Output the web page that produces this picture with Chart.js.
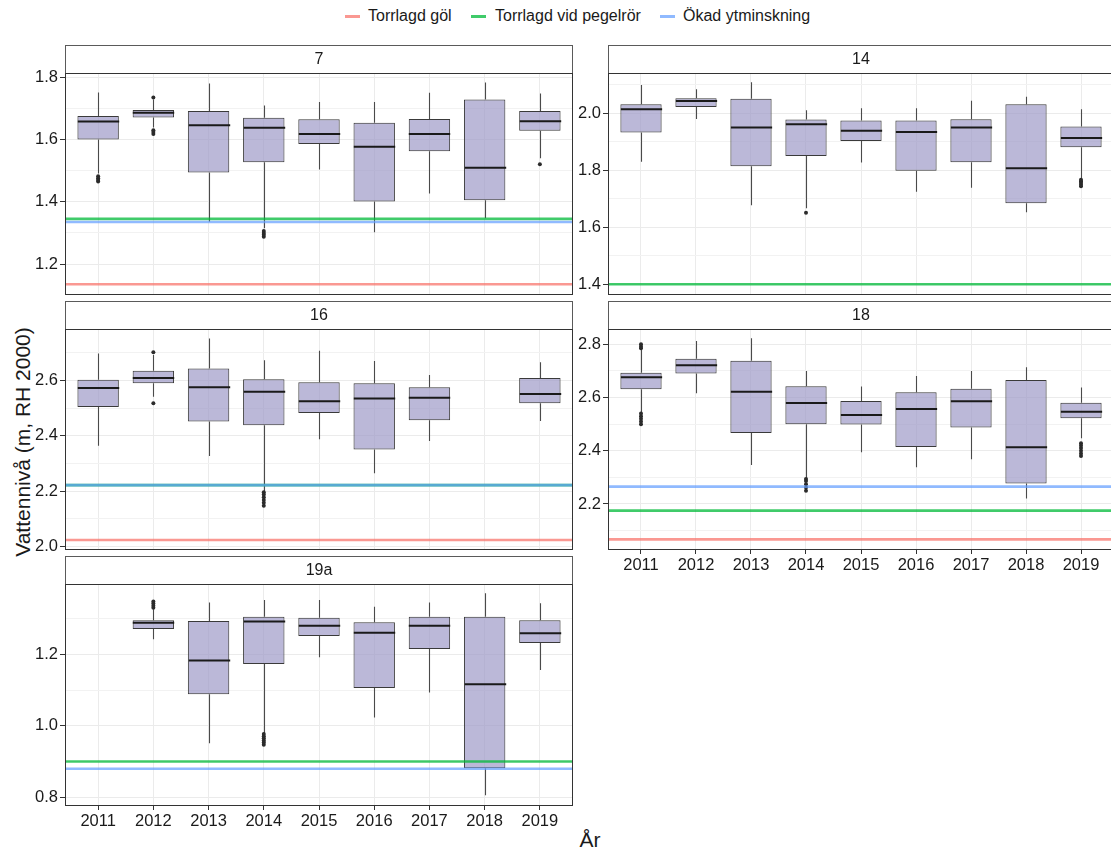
<!DOCTYPE html>
<html>
<head>
<meta charset="utf-8">
<script src="https://cdn.jsdelivr.net/npm/chart.js@4.4.1/dist/chart.umd.min.js"></script>
<style>
  html, body { margin: 0; padding: 0; background: #fff; overflow: hidden; width: 1111px; height: 850px; }
  body { position: relative; font-family: "Liberation Sans", Arial, sans-serif; color: #1a1a1a; }
  canvas { position: absolute; }
  .legend-key { position: absolute; height: 3px; width: 15px; }
  .legend-text { position: absolute; font-size: 16px; line-height: 16px; white-space: nowrap; }
  #ytitle { position: absolute; font-size: 21px; white-space: nowrap; transform: translate(-50%, -50%) rotate(-90deg); left: 23px; top: 442px; }
  #xtitle { position: absolute; font-size: 21px; white-space: nowrap; transform: translate(-50%, -50%); left: 590px; top: 840px; }
</style>
</head>
<body>
<div class="legend-key" style="left:345px;top:15px;background:rgba(248,118,109,0.75)"></div>
<div class="legend-text" style="left:368px;top:8px">Torrlagd göl</div>
<div class="legend-key" style="left:471px;top:15px;background:rgba(0,186,56,0.75)"></div>
<div class="legend-text" style="left:495px;top:8px">Torrlagd vid pegelrör</div>
<div class="legend-key" style="left:660px;top:15px;background:rgba(97,156,255,0.7)"></div>
<div class="legend-text" style="left:683px;top:8px">Ökad ytminskning</div>
<div id="ytitle">Vattennivå (m, RH 2000)</div>
<div id="xtitle">År</div>

<canvas id="c7"></canvas>
<canvas id="c14"></canvas>
<canvas id="c16"></canvas>
<canvas id="c18"></canvas>
<canvas id="c19a"></canvas>

<script>
// Years on the x axis
const years = [2011, 2012, 2013, 2014, 2015, 2016, 2017, 2018, 2019];

// Site 7: box statistics per year (m, RH 2000)
const s7Lower  = [1.491, 1.639, 1.336, 1.315, 1.504, 1.302, 1.427, 1.347, 1.540];
const s7Q1     = [1.600, 1.671, 1.494, 1.527, 1.586, 1.401, 1.562, 1.405, 1.628];
const s7Median = [1.658, 1.686, 1.646, 1.638, 1.618, 1.577, 1.618, 1.509, 1.659];
const s7Q3     = [1.676, 1.695, 1.692, 1.670, 1.665, 1.654, 1.666, 1.729, 1.692];
const s7Upper  = [1.751, 1.729, 1.780, 1.709, 1.721, 1.721, 1.750, 1.783, 1.748];
const s7OutYears  = [2011, 2011, 2011, 2011, 2012, 2012, 2012, 2012, 2014, 2014, 2014, 2014, 2019];
const s7OutValues = [1.465, 1.470, 1.476, 1.482, 1.735, 1.618, 1.624, 1.630, 1.288, 1.294, 1.300, 1.306, 1.521];

// Site 14
const s14Lower  = [1.830, 1.980, 1.677, 1.667, 1.827, 1.725, 1.739, 1.653, 1.772];
const s14Q1     = [1.933, 2.022, 1.814, 1.850, 1.903, 1.798, 1.828, 1.684, 1.881];
const s14Median = [2.014, 2.043, 1.950, 1.962, 1.939, 1.934, 1.950, 1.807, 1.913];
const s14Q3     = [2.032, 2.053, 2.051, 1.978, 1.975, 1.975, 1.979, 2.032, 1.954];
const s14Upper  = [2.099, 2.084, 2.109, 2.011, 2.018, 2.018, 2.044, 2.058, 2.014];
const s14OutYears  = [2014, 2019, 2019, 2019, 2019, 2019];
const s14OutValues = [1.651, 1.744, 1.750, 1.756, 1.762, 1.767];

// Site 16 (no data 2018)
const s16Lower  = [2.364, 2.541, 2.327, 2.199, 2.387, 2.265, 2.381, null, 2.453];
const s16Q1     = [2.504, 2.589, 2.451, 2.438, 2.482, 2.350, 2.456, null, 2.517];
const s16Median = [2.572, 2.608, 2.575, 2.559, 2.524, 2.534, 2.537, null, 2.551];
const s16Q3     = [2.602, 2.634, 2.643, 2.604, 2.593, 2.589, 2.575, null, 2.608];
const s16Upper  = [2.697, 2.691, 2.751, 2.672, 2.707, 2.670, 2.619, null, 2.665];
const s16OutYears  = [2012, 2012, 2014, 2014, 2014, 2014, 2014, 2014];
const s16OutValues = [2.701, 2.517, 2.148, 2.158, 2.168, 2.178, 2.188, 2.196];

// Site 18
const s18Lower  = [2.544, 2.616, 2.346, 2.296, 2.394, 2.338, 2.368, 2.221, 2.447];
const s18Q1     = [2.631, 2.690, 2.467, 2.500, 2.499, 2.414, 2.487, 2.277, 2.522];
const s18Median = [2.676, 2.721, 2.622, 2.579, 2.534, 2.557, 2.586, 2.413, 2.547];
const s18Q3     = [2.693, 2.746, 2.738, 2.642, 2.587, 2.620, 2.633, 2.666, 2.580];
const s18Upper  = [2.779, 2.812, 2.823, 2.700, 2.641, 2.681, 2.700, 2.714, 2.638];
const s18OutYears  = [2011, 2011, 2011, 2011, 2011, 2011, 2011, 2011, 2014, 2014, 2014, 2014, 2014, 2019, 2019, 2019, 2019, 2019, 2019];
const s18OutValues = [2.785, 2.792, 2.800, 2.500, 2.510, 2.520, 2.530, 2.540, 2.250, 2.262, 2.274, 2.286, 2.294, 2.380, 2.390, 2.400, 2.410, 2.420, 2.428];

// Site 19a (no data 2011)
const s19aLower  = [null, 1.242, 0.951, 0.979, 1.192, 1.023, 1.093, 0.806, 1.156];
const s19aQ1     = [null, 1.271, 1.088, 1.173, 1.251, 1.106, 1.215, 0.881, 1.232];
const s19aMedian = [null, 1.288, 1.183, 1.292, 1.280, 1.260, 1.280, 1.116, 1.259];
const s19aQ3     = [null, 1.295, 1.293, 1.305, 1.302, 1.290, 1.305, 1.305, 1.295];
const s19aUpper  = [null, 1.326, 1.345, 1.352, 1.352, 1.333, 1.345, 1.371, 1.343];
const s19aOutYears  = [2012, 2012, 2012, 2012, 2014, 2014, 2014, 2014, 2014, 2014];
const s19aOutValues = [1.330, 1.336, 1.342, 1.348, 0.947, 0.953, 0.959, 0.965, 0.971, 0.977];

// Critical water levels per site (null = not shown / outside range)
const sites          = ['7', '14', '16', '18', '19a'];
const levelGol       = [1.135, null, 2.024, 2.067, null];   // Torrlagd göl
const levelPegel     = [1.345, 1.400, 2.222, 2.175, 0.900]; // Torrlagd vid pegelrör
const levelYtminsk   = [1.335, null, 2.222, 2.265, 0.880];  // Ökad ytminskning

// Y tick labels (major) per site
const ticks7   = [1.2, 1.4, 1.6, 1.8];
const ticks14  = [1.4, 1.6, 1.8, 2.0];
const ticks16  = [2.0, 2.2, 2.4, 2.6];
const ticks18  = [2.2, 2.4, 2.6, 2.8];
const ticks19a = [0.8, 1.0, 1.2];

Chart.defaults.font.family = '"Liberation Sans", Arial, sans-serif';
Chart.defaults.color = '#1a1a1a';

const X_MIN = 2010.4, X_MAX = 2019.6;
const COL_GOL = 'rgba(248,118,109,0.75)';
const COL_PEGEL = 'rgba(0,186,56,0.75)';
const COL_YTM = 'rgba(97,156,255,0.7)';

function makePanel(cfg) {
  const yAxisW = 60;
  const stripH = cfg.top - cfg.stripTop;
  const canvas = document.getElementById(cfg.id);
  const w = (cfg.right - cfg.left) + yAxisW + 1;
  const h = (cfg.bottom - cfg.stripTop) + (cfg.xAxisH || 1);
  canvas.width = w; canvas.height = h;
  canvas.style.width = w + 'px'; canvas.style.height = h + 'px';
  canvas.style.left = (cfg.left - yAxisW) + 'px';
  canvas.style.top = cfg.stripTop + 'px';

  const majors = cfg.majors;
  const step = majors[1] - majors[0];
  const yTicks = [];
  for (let v = majors[0] - step / 2; v <= cfg.yMax + 1e-9; v += step / 2) {
    if (v >= cfg.yMin - 1e-9) yTicks.push(Math.round(v * 1000) / 1000);
  }
  const isMajor = v => majors.some(m => Math.abs(m - v) < 1e-6);

  const boxes = [];
  years.forEach((yr, i) => { if (cfg.q1[i] != null) boxes.push({ x: yr, y: [cfg.q1[i], cfg.q3[i]] }); });
  const outliers = cfg.outYears.map((yr, i) => ({ x: yr, y: cfg.outValues[i] }));

  const datasets = [{
    type: 'bar', data: boxes, order: 10,
    backgroundColor: 'rgba(158,154,200,0.7)', borderColor: '#3a3a3a', borderWidth: 1,
    borderSkipped: false, barPercentage: 0.75, categoryPercentage: 1
  }, {
    type: 'scatter', data: outliers, order: 9,
    pointRadius: 2, pointBackgroundColor: '#2b2b2b', pointBorderWidth: 0
  }];
  const refs = [[cfg.gol, COL_GOL, 3], [cfg.pegel, COL_PEGEL, 2], [cfg.ytm, COL_YTM, 1]];
  refs.forEach(([v, col, ord]) => {
    if (v == null) return;
    datasets.push({
      type: 'line', data: [{ x: X_MIN, y: v }, { x: X_MAX, y: v }], order: ord,
      borderColor: col, borderWidth: 2.6, pointRadius: 0, fill: false
    });
  });

  // whiskers and medians, drawn with the box layer
  const boxPlugin = {
    id: 'boxWhiskers',
    afterDatasetDraw(chart, args) {
      if (args.meta.type !== 'bar') return;
      const ctx = chart.ctx, xs = chart.scales.x, ys = chart.scales.y;
      const half = args.meta.data.length ? args.meta.data[0].width / 2 : 20;
      ctx.save();
      years.forEach((yr, i) => {
        if (cfg.median[i] == null) return;
        const cx = Math.round(xs.getPixelForValue(yr)) + 0.5;
        ctx.strokeStyle = '#4a4a4a'; ctx.lineWidth = 1.1;
        ctx.beginPath();
        ctx.moveTo(cx, ys.getPixelForValue(cfg.q3[i])); ctx.lineTo(cx, ys.getPixelForValue(cfg.upper[i]));
        ctx.moveTo(cx, ys.getPixelForValue(cfg.q1[i])); ctx.lineTo(cx, ys.getPixelForValue(cfg.lower[i]));
        ctx.stroke();
        const my = ys.getPixelForValue(cfg.median[i]);
        ctx.strokeStyle = '#1a1a1a'; ctx.lineWidth = 2;
        ctx.beginPath(); ctx.moveTo(cx - half, my); ctx.lineTo(cx + half, my); ctx.stroke();
      });
      ctx.restore();
    }
  };

  // facet strip and panel border
  const framePlugin = {
    id: 'facetFrame',
    afterDraw(chart) {
      const ctx = chart.ctx, a = chart.chartArea;
      ctx.save();
      ctx.strokeStyle = '#5a5a5a'; ctx.lineWidth = 1;
      ctx.strokeRect(a.left + 0.5, 0.5, a.right - a.left - 1, a.top);
      ctx.strokeStyle = '#333'; ctx.lineWidth = 1;
      ctx.strokeRect(a.left + 0.5, a.top + 0.5, a.right - a.left - 1, a.bottom - a.top - 1);
      ctx.fillStyle = '#1a1a1a'; ctx.font = '16px "Liberation Sans", Arial, sans-serif';
      ctx.textAlign = 'center'; ctx.textBaseline = 'middle';
      ctx.fillText(cfg.title, (a.left + a.right) / 2, a.top / 2 + 1);
      ctx.restore();
    }
  };

  const showX = !!cfg.xAxisH;
  new Chart(canvas, {
    type: 'bar',
    data: { datasets },
    plugins: [boxPlugin, framePlugin],
    options: {
      responsive: false, animation: false, devicePixelRatio: 1,
      layout: { autoPadding: false, padding: { top: stripH, right: 1, bottom: showX ? 0 : 1, left: 0 } },
      plugins: { legend: { display: false }, tooltip: { enabled: false } },
      scales: {
        x: {
          type: 'linear', min: X_MIN, max: X_MAX, offset: false,
          afterBuildTicks: s => { s.ticks = years.map(v => ({ value: v })); },
          afterFit: s => { s.height = showX ? cfg.xAxisH : 0; s.paddingLeft = 0; s.paddingRight = 0; },
          ticks: { display: showX, autoSkip: false, maxRotation: 0, padding: 2,
                   font: { size: 16.5 }, color: '#1a1a1a', callback: v => String(v) },
          grid: { color: '#EBEBEB', lineWidth: 1, offset: false, drawTicks: showX,
                  tickLength: 4, tickColor: '#333' },
          border: { display: false }
        },
        y: {
          type: 'linear', min: cfg.yMin, max: cfg.yMax,
          afterBuildTicks: s => { s.ticks = yTicks.map(v => ({ value: v })); },
          afterFit: s => { s.width = yAxisW; s.paddingTop = 0; s.paddingBottom = 0; },
          ticks: { autoSkip: false, padding: 2, font: { size: 16.5 }, color: '#1a1a1a',
                   callback: v => isMajor(v) ? v.toFixed(1) : '' },
          grid: {
            color: c => (c.tick && isMajor(c.tick.value)) ? '#EBEBEB' : '#F2F2F2',
            lineWidth: 1, tickLength: 5,
            tickColor: c => (c.tick && isMajor(c.tick.value)) ? '#333' : 'rgba(0,0,0,0)'
          },
          border: { display: false }
        }
      }
    }
  });
}

makePanel({ id: 'c7', title: sites[0], left: 65, right: 573, stripTop: 45, top: 73, bottom: 295, xAxisH: 0,
  yMin: 1.1005, yMax: 1.8138, majors: ticks7,
  lower: s7Lower, q1: s7Q1, median: s7Median, q3: s7Q3, upper: s7Upper,
  outYears: s7OutYears, outValues: s7OutValues, gol: levelGol[0], pegel: levelPegel[0], ytm: levelYtminsk[0] });

makePanel({ id: 'c14', title: sites[1], left: 608, right: 1114, stripTop: 45, top: 73, bottom: 295, xAxisH: 0,
  yMin: 1.3625, yMax: 2.1414, majors: ticks14,
  lower: s14Lower, q1: s14Q1, median: s14Median, q3: s14Q3, upper: s14Upper,
  outYears: s14OutYears, outValues: s14OutValues, gol: levelGol[1], pegel: levelPegel[1], ytm: levelYtminsk[1] });

makePanel({ id: 'c16', title: sites[2], left: 65, right: 573, stripTop: 301, top: 329, bottom: 550, xAxisH: 0,
  yMin: 1.988, yMax: 2.785, majors: ticks16,
  lower: s16Lower, q1: s16Q1, median: s16Median, q3: s16Q3, upper: s16Upper,
  outYears: s16OutYears, outValues: s16OutValues, gol: levelGol[2], pegel: levelPegel[2], ytm: levelYtminsk[2] });

makePanel({ id: 'c18', title: sites[3], left: 608, right: 1114, stripTop: 301, top: 329, bottom: 550, xAxisH: 30,
  yMin: 2.027, yMax: 2.8575, majors: ticks18,
  lower: s18Lower, q1: s18Q1, median: s18Median, q3: s18Q3, upper: s18Upper,
  outYears: s18OutYears, outValues: s18OutValues, gol: levelGol[3], pegel: levelPegel[3], ytm: levelYtminsk[3] });

makePanel({ id: 'c19a', title: sites[4], left: 65, right: 573, stripTop: 556, top: 584, bottom: 806, xAxisH: 30,
  yMin: 0.7757, yMax: 1.3967, majors: ticks19a,
  lower: s19aLower, q1: s19aQ1, median: s19aMedian, q3: s19aQ3, upper: s19aUpper,
  outYears: s19aOutYears, outValues: s19aOutValues, gol: levelGol[4], pegel: levelPegel[4], ytm: levelYtminsk[4] });
</script>
</body>
</html>
